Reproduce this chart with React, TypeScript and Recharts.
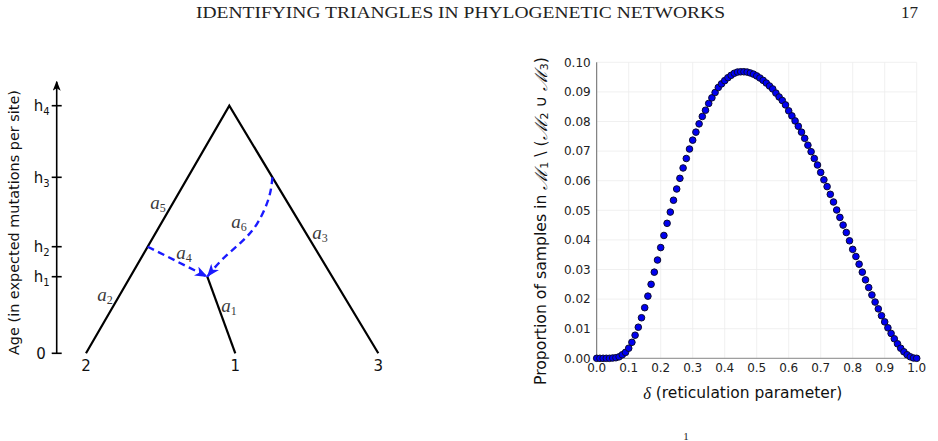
import { CartesianGrid, ComposedChart, Label, Line, Scatter, ScatterChart, XAxis, YAxis } from "recharts";

const sans = "'DejaVu Sans', sans-serif";
const serif = "'Liberation Serif', 'DejaVu Serif', serif";
const blue = "#1a1aff";

// ---- network diagram: x = horizontal layout, y = age ----
const ageTicks = [0, 0.766, 1.066, 1.76, 2.476];
const ageTickNames = ["0", "h1", "h2", "h3", "h4"];
const ageTop = 2.716;

const leafX = [0.293, 1.786, 3.216];
const leafNames = ["2", "1", "3"];

const nodes = {
  leaf2: { x: 0.293, y: 0 },
  leaf1: { x: 1.786, y: 0 },
  leaf3: { x: 3.216, y: 0 },
  root: { x: 1.726, y: 2.476 },
  hybrid: { x: 1.506, y: 0.766 },
  u: { x: 0.91, y: 1.066 },
  v: { x: 2.157, y: 1.76 },
};

const treeEdges = [
  [nodes.leaf2, nodes.root, nodes.leaf3],
  [nodes.hybrid, nodes.leaf1],
];
const edgeA4 = [nodes.u, nodes.hybrid];
const edgeA6 = [nodes.v, { x: 2.12, y: 1.55 }, { x: 2.0, y: 1.29 }, { x: 1.833, y: 1.1 }, { x: 1.65, y: 0.933 }, nodes.hybrid];

const edgeLabels = [
  { sub: "1", x: 1.723, y: 0.473 },
  { sub: "2", x: 0.483, y: 0.583 },
  { sub: "3", x: 2.633, y: 1.203 },
  { sub: "4", x: 1.273, y: 1.003 },
  { sub: "5", x: 1.013, y: 1.503 },
  { sub: "6", x: 1.823, y: 1.313 },
];

// ---- proportion curve ----
const delta = [
  0, 0.01, 0.02, 0.03, 0.04, 0.05, 0.06, 0.07, 0.08, 0.09,
  0.1, 0.11, 0.12, 0.13, 0.14, 0.15, 0.16, 0.17, 0.18, 0.19,
  0.2, 0.21, 0.22, 0.23, 0.24, 0.25, 0.26, 0.27, 0.28, 0.29,
  0.3, 0.31, 0.32, 0.33, 0.34, 0.35, 0.36, 0.37, 0.38, 0.39,
  0.4, 0.41, 0.42, 0.43, 0.44, 0.45, 0.46, 0.47, 0.48, 0.49,
  0.5, 0.51, 0.52, 0.53, 0.54, 0.55, 0.56, 0.57, 0.58, 0.59,
  0.6, 0.61, 0.62, 0.63, 0.64, 0.65, 0.66, 0.67, 0.68, 0.69,
  0.7, 0.71, 0.72, 0.73, 0.74, 0.75, 0.76, 0.77, 0.78, 0.79,
  0.8, 0.81, 0.82, 0.83, 0.84, 0.85, 0.86, 0.87, 0.88, 0.89,
  0.9, 0.91, 0.92, 0.93, 0.94, 0.95, 0.96, 0.97, 0.98, 0.99, 1,
];
const proportion = [
  0, 0, 0, 0, 0, 0.0001, 0.0002, 0.0005, 0.0012, 0.002,
  0.0034, 0.0054, 0.0078, 0.0105, 0.0137, 0.0171, 0.021, 0.025, 0.0291, 0.0332,
  0.0374, 0.0415, 0.0456, 0.0494, 0.0534, 0.0572, 0.0608, 0.0643, 0.0675, 0.0707,
  0.0737, 0.0764, 0.0792, 0.0817, 0.0838, 0.0861, 0.088, 0.0898, 0.0915, 0.0927,
  0.0938, 0.0948, 0.0956, 0.0963, 0.0967, 0.0968, 0.0968, 0.0967, 0.0964, 0.096,
  0.0954, 0.0947, 0.0939, 0.093, 0.092, 0.091, 0.0896, 0.0883, 0.0871, 0.0856,
  0.0836, 0.0819, 0.0802, 0.0784, 0.0764, 0.0743, 0.072, 0.0698, 0.0675, 0.0653,
  0.0628, 0.0603, 0.058, 0.0554, 0.0528, 0.0501, 0.0476, 0.045, 0.0425, 0.0397,
  0.0368, 0.0344, 0.0318, 0.0291, 0.0265, 0.0239, 0.0214, 0.019, 0.0167, 0.0144,
  0.0123, 0.0103, 0.0084, 0.0066, 0.0049, 0.0034, 0.0022, 0.0012, 0.0005, 0.0001, 0,
];
const deltaTicks = [0, 0.1, 0.2, 0.3, 0.4, 0.5, 0.6, 0.7, 0.8, 0.9, 1];
const proportionTicks = [0, 0.01, 0.02, 0.03, 0.04, 0.05, 0.06, 0.07, 0.08, 0.09, 0.1];

const samples = delta.map((d, i) => ({ delta: d, p: proportion[i] }));

function AgeTick(props: any) {
  const { x, y, payload } = props;
  const name = ageTickNames[ageTicks.indexOf(payload.value)] ?? "";
  return (
    <g>
      <line x1={x + 2} x2={x + 12} y1={y} y2={y} stroke="#000" strokeWidth={1.6} />
      <text x={name.length > 1 ? x : x - 4} y={y} dy="0.36em" textAnchor="end" fontSize={15} fill="#111" fontFamily={sans}>
        {name.charAt(0)}
        {name.length > 1 ? (
          <tspan fontSize={10} dy={4}>
            {name.slice(1)}
          </tspan>
        ) : null}
      </text>
    </g>
  );
}

function AgeLabel({ viewBox }: any) {
  const cx = viewBox.x + 14;
  const cy = viewBox.y + viewBox.height / 2 + 5;
  return (
    <text
      x={cx}
      y={cy}
      transform={`rotate(-90 ${cx} ${cy})`}
      textAnchor="middle"
      dominantBaseline="central"
      fontSize={14.5}
      fill="#111"
      fontFamily={sans}
      textLength={265}
      lengthAdjust="spacingAndGlyphs"
    >
      Age (in expected mutations per site)
    </text>
  );
}

function EdgeName(props: any) {
  const { cx, cy, payload } = props;
  return (
    <text x={cx} y={cy} dy="0.3em" textAnchor="middle" fill="#3a3a3a" fontFamily={serif} fontStyle="italic" fontSize={19}>
      a
      <tspan fontSize={12} fontStyle="normal" dy={3}>
        {payload.sub}
      </tspan>
    </text>
  );
}

function SampleDot(props: any) {
  const { cx, cy } = props;
  return <circle cx={cx} cy={cy} r={3.3} fill="#0000f0" stroke="#0b0b30" strokeWidth={1} />;
}

function DeltaLabel({ viewBox }: any) {
  const cx = viewBox.x + viewBox.width / 2 - 14;
  const cy = viewBox.y + 34.7;
  return (
    <text x={cx} y={cy} textAnchor="middle" dominantBaseline="central" fontSize={15} fill="#111" fontFamily={sans} textLength={199} lengthAdjust="spacingAndGlyphs">
      <tspan fontFamily={serif} fontStyle="italic" fontSize={16}>
        δ
      </tspan>
      {" (reticulation parameter)"}
    </text>
  );
}

function ProportionLabel({ viewBox }: any) {
  const cx = viewBox.x + 21;
  const cy = viewBox.y + viewBox.height / 2 + 10.7;
  const m = (n: string) => [
    <tspan key={`m${n}`} fontFamily={serif} fontStyle="italic" fontSize={17}>
      ℳ
    </tspan>,
    <tspan key={`s${n}`} fontSize={10.5} dy={3}>
      {n}
    </tspan>,
  ];
  return (
    <text
      x={cx}
      y={cy}
      transform={`rotate(-90 ${cx} ${cy})`}
      textAnchor="middle"
      dominantBaseline="central"
      fontSize={15}
      fill="#111"
      fontFamily={sans}
      textLength={328}
      lengthAdjust="spacingAndGlyphs"
    >
      {"Proportion of samples in "}
      {m("1")}
      <tspan dy={-3}>{" \\ ("}</tspan>
      {m("2")}
      <tspan dy={-3}>{" ∪ "}</tspan>
      {m("3")}
      <tspan dy={-3}>)</tspan>
    </text>
  );
}

export default function App() {
  return (
    <div style={{ position: "absolute", left: 0, top: 0, width: 938, height: 441, overflow: "hidden", background: "#fff" }}>
      <svg width={938} height={441} style={{ position: "absolute", left: 0, top: 0 }}>
        <defs>
          <marker id="ageArrow" viewBox="0 0 10 8" refX={9} refY={4} markerWidth={10} markerHeight={8} markerUnits="userSpaceOnUse" orient="auto-start-reverse">
            <path d="M0,0 L10,4 L0,8 L2.5,4 z" fill="#000" />
          </marker>
          <marker id="blueArrow" viewBox="0 0 13 10" refX={12.5} refY={5} markerWidth={13} markerHeight={10} markerUnits="userSpaceOnUse" orient="auto">
            <path d="M0,0 L13,5 L0,10 L3.5,5 z" fill={blue} />
          </marker>
        </defs>
        <text x={460.5} y={18} textAnchor="middle" fontSize={17} fill="#222" fontFamily={serif} textLength={529} lengthAdjust="spacingAndGlyphs">
          IDENTIFYING TRIANGLES IN PHYLOGENETIC NETWORKS
        </text>
        <text x={918} y={18} textAnchor="end" fontSize={17} fill="#222" fontFamily={serif}>
          17
        </text>
        <text x={686} y={440} textAnchor="middle" fontSize={11} fill="#222" fontFamily={serif}>
          1
        </text>
      </svg>

      <div style={{ position: "absolute", left: 0, top: 0 }}>
        <ComposedChart width={420} height={400} margin={{ top: 81.7, right: 3.3, bottom: 16.7, left: 0 }}>
          <XAxis
            type="number"
            dataKey="x"
            domain={[0, 3.6]}
            ticks={leafX}
            tickFormatter={(v: number) => leafNames[leafX.indexOf(v)] ?? ""}
            axisLine={false}
            tickLine={false}
            tickSize={0}
            tickMargin={7}
            height={30}
            tick={{ fontSize: 15, fill: "#111", fontFamily: sans }}
          />
          <YAxis
            type="number"
            dataKey="y"
            domain={[0, ageTop]}
            ticks={ageTicks}
            width={56.7}
            tickLine={false}
            tickSize={0}
            tickMargin={7}
            tick={<AgeTick />}
            axisLine={{ stroke: "#000", strokeWidth: 1.6, markerStart: "url(#ageArrow)" }}
            label={<Label content={AgeLabel} />}
          />
          {treeEdges.map((edge, i) => (
            <Line key={i} data={edge} dataKey="y" type="linear" stroke="#000" strokeWidth={2.2} dot={false} activeDot={false} isAnimationActive={false} />
          ))}
          <Line data={edgeA4} dataKey="y" type="linear" stroke={blue} strokeWidth={2.4} strokeDasharray="7 4.5" markerEnd="url(#blueArrow)" dot={false} activeDot={false} isAnimationActive={false} />
          <Line data={edgeA6} dataKey="y" type="natural" stroke={blue} strokeWidth={2.4} strokeDasharray="7 4.5" markerEnd="url(#blueArrow)" dot={false} activeDot={false} isAnimationActive={false} />
          <Scatter data={edgeLabels} dataKey="y" shape={<EdgeName />} isAnimationActive={false} />
        </ComposedChart>
      </div>

      <div style={{ position: "absolute", left: 520, top: 40 }}>
        <ScatterChart width={418} height={401} margin={{ top: 22.3, right: 21.3, bottom: 52.7, left: 0 }}>
          <CartesianGrid stroke="#ececec" strokeWidth={0.8} />
          <XAxis
            type="number"
            dataKey="delta"
            domain={[0, 1]}
            ticks={deltaTicks}
            tickFormatter={(v: number) => v.toFixed(1)}
            height={30}
            tickLine={false}
            tickSize={0}
            tickMargin={5}
            axisLine={{ stroke: "#8a8a8a" }}
            tick={{ fontSize: 12, fill: "#222", fontFamily: sans }}
            label={<Label content={DeltaLabel} />}
          />
          <YAxis
            type="number"
            dataKey="p"
            domain={[0, 0.1]}
            ticks={proportionTicks}
            tickFormatter={(v: number) => v.toFixed(2)}
            width={76.7}
            tickLine={false}
            tickSize={0}
            tickMargin={6}
            axisLine={{ stroke: "#6a6a6a" }}
            tick={{ fontSize: 12, fill: "#222", fontFamily: sans }}
            label={<Label content={ProportionLabel} />}
          />
          <Scatter data={samples} shape={<SampleDot />} isAnimationActive={false} />
        </ScatterChart>
      </div>
    </div>
  );
}
